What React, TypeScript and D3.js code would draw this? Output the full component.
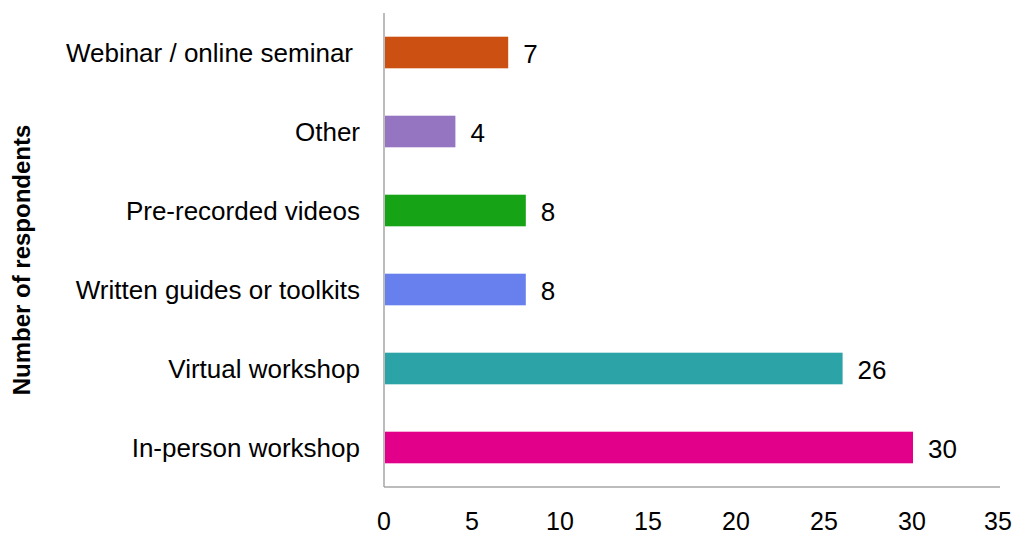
import * as d3 from 'd3';

const categories = [
  'Webinar / online seminar',
  'Other',
  'Pre-recorded videos',
  'Written guides or toolkits',
  'Virtual workshop',
  'In-person workshop',
];
const values = [7, 4, 8, 8, 26, 30];
const colors = ['#CB5011', '#9575C1', '#16A316', '#6880EE', '#2CA3A6', '#E2008A'];
const xTicks = [0, 5, 10, 15, 20, 25, 30, 35];

export default function App() {
  const width = 1019;
  const height = 533;
  const left = 384;
  const right = 1000;
  const top = 13;
  const bottom = 487;

  const x = d3.scaleLinear().domain([0, 35]).range([left, right]);
  const y = d3
    .scaleBand<string>()
    .domain(categories)
    .range([top, bottom])
    .paddingInner(0.6)
    .paddingOuter(0.3);

  const font = '"Liberation Sans", Arial, sans-serif';

  return (
    <svg
      width={width}
      height={height}
      style={{ position: 'absolute', left: 0, top: 0, background: '#fff' }}
      fontFamily={font}
    >
      {/* bars */}
      {categories.map((c, i) => (
        <g key={c}>
          <rect
            x={x(0) + 1}
            y={y(c)}
            width={x(values[i]) - x(0)}
            height={y.bandwidth()}
            fill={colors[i]}
          />
          <text
            x={x(values[i]) + 16}
            y={(y(c) || 0) + y.bandwidth() / 2 + 1}
            dy="0.35em"
            fontSize={26}
            fill="#000"
          >
            {values[i]}
          </text>
          <text
            x={i === 0 ? left - 31 : left - 24}
            y={(y(c) || 0) + y.bandwidth() / 2}
            dy="0.35em"
            fontSize={26}
            textAnchor="end"
            fill="#000"
          >
            {c}
          </text>
        </g>
      ))}

      {/* axes */}
      <line x1={left} x2={left} y1={top} y2={bottom} stroke="#A6A6A6" strokeWidth={1.5} />
      <line x1={left} x2={right} y1={bottom} y2={bottom} stroke="#A6A6A6" strokeWidth={1.5} />
      {xTicks.map((t) => (
        <text
          key={t}
          x={x(t) - (t === 35 ? 2 : 0)}
          y={521}
          dy="0.35em"
          fontSize={25}
          textAnchor="middle"
          fill="#000"
        >
          {t}
        </text>
      ))}

      <text
        transform={`translate(22,${(top + bottom) / 2 + 10}) rotate(-90)`}
        textAnchor="middle"
        dy="0.35em"
        fontSize={24}
        fontWeight="bold"
        fill="#000"
      >
        Number of respondents
      </text>
    </svg>
  );
}
